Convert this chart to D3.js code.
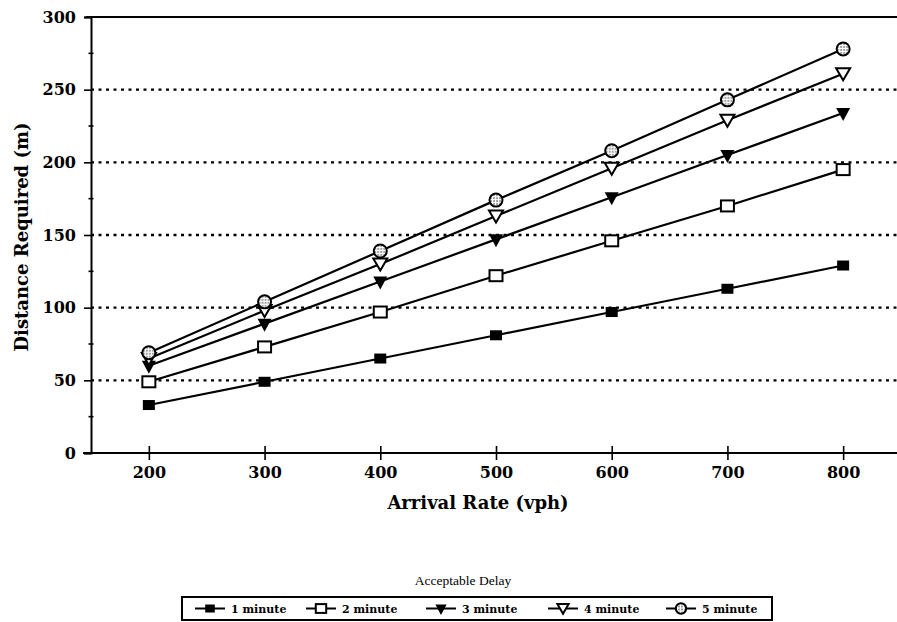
<!DOCTYPE html>
<html><head><meta charset="utf-8">
<script src="https://cdn.jsdelivr.net/npm/d3@7/dist/d3.min.js"></script>
<style>body{margin:0;background:#fff}svg{display:block}</style>
</head><body><svg id="c" width="897" height="622"></svg>
<script>
const arrivalRates = [200, 300, 400, 500, 600, 700, 800];
const oneMinute   = [33, 49, 65, 81, 97, 113, 129];
const twoMinute   = [49, 73, 97, 122, 146, 170, 195];
const threeMinute = [60, 89, 118, 147, 176, 205, 234];
const fourMinute  = [65, 98, 130, 163, 196, 229, 261];
const fiveMinute  = [69, 104, 139, 174, 208, 243, 278];
const seriesNames = ["1 minute", "2 minute", "3 minute", "4 minute", "5 minute"];
const seriesValues = [oneMinute, twoMinute, threeMinute, fourMinute, fiveMinute];
const yTicks = [0, 50, 100, 150, 200, 250, 300];
const yMinorTicks = [25, 75, 125, 175, 225, 275];
const xTicks = [200, 300, 400, 500, 600, 700, 800];

const svg = d3.select("#c");
const defs = svg.append("defs");
const pat = defs.append("pattern").attr("id","dots").attr("patternUnits","userSpaceOnUse")
  .attr("width",3).attr("height",3);
pat.append("rect").attr("width",3).attr("height",3).attr("fill","#fff");
pat.append("circle").attr("cx",1).attr("cy",1).attr("r",0.8).attr("fill","#333");

const x = d3.scaleLinear().domain([150, 850]).range([91, 901]);
const y = d3.scaleLinear().domain([0, 300]).range([453, 17]);
const serif = "'DejaVu Serif', serif";

// gridlines
svg.append("g").selectAll("line").data(yTicks.filter(d => d > 0 && d < 300)).join("line")
  .attr("x1", x(150)).attr("x2", 897).attr("y1", d => y(d)).attr("y2", d => y(d))
  .attr("stroke", "#000").attr("stroke-width", 2.4).attr("stroke-dasharray", "3,4.5");

// top frame
svg.append("line").attr("x1", x(150) - 5).attr("x2", 897).attr("y1", y(300)).attr("y2", y(300))
  .attr("stroke", "#000").attr("stroke-width", 2);

// y axis
const yAxis = d3.axisLeft(y).tickValues(yTicks).tickSize(7).tickPadding(8);
const gy = svg.append("g").attr("transform", `translate(${x(150)},0)`).call(yAxis);
gy.select(".domain").attr("stroke-width", 2);
gy.selectAll(".tick line").attr("stroke-width", 1.6);
gy.selectAll(".tick text").attr("font-family", serif).attr("font-weight", "bold")
  .attr("font-size", 16).attr("fill", "#000");
gy.selectAll(".minor").data(yMinorTicks).join("line").attr("class","minor")
  .attr("x1", -2.5).attr("x2", 2.5).attr("y1", d => y(d)).attr("y2", d => y(d))
  .attr("stroke", "#000").attr("stroke-width", 1.6);

// x axis
const xAxis = d3.axisBottom(x).tickValues(xTicks).tickSize(7).tickPadding(7);
const gx = svg.append("g").attr("transform", `translate(0,${y(0)})`).call(xAxis);
gx.select(".domain").remove();
gx.append("line").attr("x1", x(150) - 8).attr("x2", 897).attr("stroke", "#000").attr("stroke-width", 2.2);
gx.selectAll(".tick line").attr("y1", -7).attr("stroke-width", 1.6);
gx.selectAll(".tick text").attr("font-family", serif).attr("font-weight", "bold")
  .attr("font-size", 16).attr("fill", "#000");

// axis titles
svg.append("text").attr("x", 478).attr("y", 509).attr("text-anchor", "middle")
  .attr("font-family", serif).attr("font-weight", "bold").attr("font-size", 18)
  .text("Arrival Rate (vph)");
svg.append("text").attr("transform", "translate(28,237) rotate(-90)").attr("text-anchor", "middle")
  .attr("font-family", serif).attr("font-weight", "bold").attr("font-size", 18)
  .text("Distance Required (m)");

// markers
function marker(g, i, s) {
  s = s || 1;
  if (i === 0) g.append("rect").attr("x", -6*s).attr("y", -5*s).attr("width", 12*s).attr("height", 10*s).attr("fill", "#000");
  else if (i === 1) g.append("rect").attr("x", -6.5*s).attr("y", -5.5*s).attr("width", 13*s).attr("height", 11*s).attr("fill", "#fff").attr("stroke", "#000").attr("stroke-width", 2);
  else if (i === 2) g.append("path").attr("d", `M${-7*s},${-5*s}L${7*s},${-5*s}L0,${8*s}Z`).attr("fill", "#000");
  else if (i === 3) g.append("path").attr("d", `M${-7*s},${-5.5*s}L${7*s},${-5.5*s}L0,${6.5*s}Z`).attr("fill", "#fff").attr("stroke", "#000").attr("stroke-width", 2);
  else g.append("circle").attr("r", 6.5*s).attr("fill", "url(#dots)").attr("stroke", "#000").attr("stroke-width", 2);
}

const line = d3.line().x((d, j) => x(arrivalRates[j])).y(d => y(d));
seriesValues.forEach((vals, i) => {
  svg.append("path").datum(vals).attr("d", line).attr("fill", "none")
    .attr("stroke", "#000").attr("stroke-width", 2.2);
});
seriesValues.forEach((vals, i) => {
  vals.forEach((v, j) => {
    const g = svg.append("g").attr("transform", `translate(${x(arrivalRates[j])},${y(v)})`);
    marker(g, i);
  });
});

// legend
svg.append("text").attr("x", 463).attr("y", 585).attr("text-anchor", "middle")
  .attr("font-family", "'Liberation Serif', serif").attr("font-size", 13.5).text("Acceptable Delay");
svg.append("rect").attr("x", 182).attr("y", 597).attr("width", 590).attr("height", 23)
  .attr("fill", "#fff").attr("stroke", "#000").attr("stroke-width", 2);
const legendX = [210, 321, 441, 563, 681];
seriesNames.forEach((name, i) => {
  const g = svg.append("g").attr("transform", `translate(${legendX[i]},608.5)`);
  g.append("line").attr("x1", -15).attr("x2", 15).attr("stroke", "#000").attr("stroke-width", 2);
  marker(g, i, 0.8);
  g.append("text").attr("x", 21).attr("y", 4).attr("font-family", serif).attr("font-weight", "bold")
    .attr("font-size", 11).text(name);
});
</script></body></html>
